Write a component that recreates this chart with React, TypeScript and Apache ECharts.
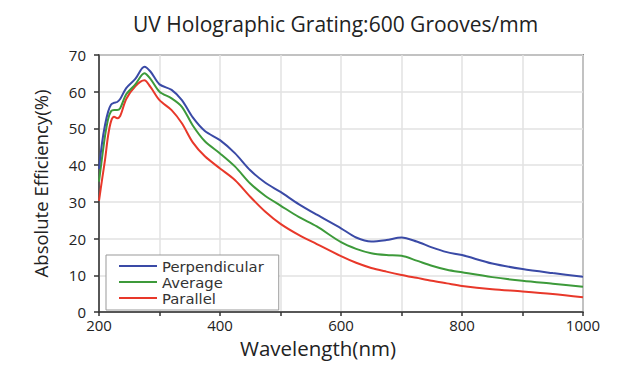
import React, { useEffect, useRef } from "react";
import * as echarts from "echarts";

const wavelengths = [200, 205, 210, 215, 220, 225, 230, 235, 245, 260, 275, 285, 300, 320, 337, 355, 375, 400, 425, 450, 475, 500, 530, 560, 600, 625, 650, 675, 700, 725, 750, 775, 800, 850, 900, 950, 1000];
const perpendicular = [39, 46, 51, 54.5, 56.5, 57, 57.2, 58, 61, 63.5, 66.8, 65.5, 62, 60.5, 57.7, 53, 49.3, 46.8, 43.2, 38.6, 35.2, 32.7, 29.4, 26.5, 22.8, 20.3, 19.2, 19.6, 20.3, 19.2, 17.6, 16.3, 15.5, 13.2, 11.7, 10.6, 9.6];
const average = [35.5, 42, 48, 52.5, 54.7, 55, 55, 55.5, 59.3, 62, 65, 63.5, 60, 58.2, 55.9, 50.8, 46.5, 43.2, 39.6, 35, 31.6, 29, 25.9, 23.3, 19, 17.2, 16, 15.5, 15.3, 14, 12.6, 11.5, 10.8, 9.5, 8.5, 7.7, 6.9];
const parallel = [30.3, 36, 41.5, 48, 52, 53.2, 52.8, 53.4, 58, 61.5, 63.1, 61.3, 57.7, 55, 51.4, 46.2, 42.4, 39.1, 35.9, 31.4, 27.3, 24, 21, 18.5, 15.2, 13.4, 12, 11, 10.1, 9.3, 8.5, 7.8, 7.1, 6.2, 5.6, 4.9, 4.0];

const seriesNames = ["Perpendicular", "Average", "Parallel"];
const seriesColors = ["#3a4aa6", "#3d9a3a", "#e8382a"];
const seriesValues = [perpendicular, average, parallel];

const titleText = "UV Holographic Grating:600 Grooves/mm";
const xName = "Wavelength(nm)";
const yName = "Absolute Efficiency(%)";

export default function App() {
  const ref = useRef<HTMLDivElement>(null);
  useEffect(() => {
    if (!ref.current) return;
    const chart = echarts.init(ref.current, null, { renderer: "svg" });
    const font = "'Open Sans', 'DejaVu Sans', sans-serif";
    chart.setOption({
      animation: false,
      backgroundColor: "#ffffff",
      title: {
        text: titleText,
        left: 128,
        top: 8,
        textStyle: { fontFamily: font, fontSize: 21, fontWeight: "normal", color: "#222" },
      },
      legend: {
        orient: "vertical",
        left: 106,
        top: 255,
        data: seriesNames.map((n) => ({ name: n, icon: "rect" })),
        itemWidth: 38,
        itemHeight: 2,
        itemGap: 0,
        padding: [3, 15, 4, 13],
        borderColor: "#999",
        borderWidth: 1,
        borderRadius: 0,
        backgroundColor: "#fff",
        textStyle: { fontFamily: "'DejaVu Sans', sans-serif", fontSize: 14.8, color: "#333", lineHeight: 16 },
      },
      grid: {
        left: 99,
        right: 37,
        top: 55,
        bottom: 58,
        show: true,
        borderColor: "#333",
        borderWidth: 1.5,
        backgroundColor: "transparent",
      },
      xAxis: {
        type: "value",
        min: 200,
        max: 1000,
        interval: 100,
        name: xName,
        nameLocation: "middle",
        nameGap: 25,
        nameTextStyle: { fontFamily: font, fontSize: 20.5, color: "#222", padding: [0, 46, 0, 0] },
        axisLine: { show: true, lineStyle: { color: "#333", width: 1.5 } },
        axisTick: { show: true, length: 4, lineStyle: { color: "#333", width: 1.5 } },
        axisLabel: {
          fontFamily: font,
          fontSize: 15,
          color: "#222",
          margin: 5,
          formatter: (v: number) => (v % 200 === 0 ? String(v) : ""),
        },
        splitLine: { show: true, lineStyle: { color: "#e2e2e2", width: 1.5 } },
      },
      yAxis: {
        type: "value",
        min: 0,
        max: 70,
        interval: 10,
        name: yName,
        nameLocation: "middle",
        nameGap: 49,
        nameTextStyle: { fontFamily: font, fontSize: 18.5, color: "#222" },
        axisLine: { show: true, lineStyle: { color: "#333", width: 1.5 } },
        axisTick: { show: true, length: 5, lineStyle: { color: "#333", width: 1.5 } },
        axisLabel: { fontFamily: font, fontSize: 15, color: "#222", margin: 13 },
        splitLine: { show: true, lineStyle: { color: "#e2e2e2", width: 1.5 } },
      },
      series: seriesNames.map((name, i) => ({
        name,
        type: "line",
        smooth: 0.3,
        symbol: "none",
        data: wavelengths.map((w, j) => [w, seriesValues[i][j]]),
        lineStyle: { color: seriesColors[i], width: 2 },
        itemStyle: { color: seriesColors[i] },
        z: 3 - i,
      })),
    });
    return () => chart.dispose();
  }, []);
  return <div ref={ref} style={{ width: 620, height: 370, position: "absolute", left: 0, top: 0 }} />;
}
